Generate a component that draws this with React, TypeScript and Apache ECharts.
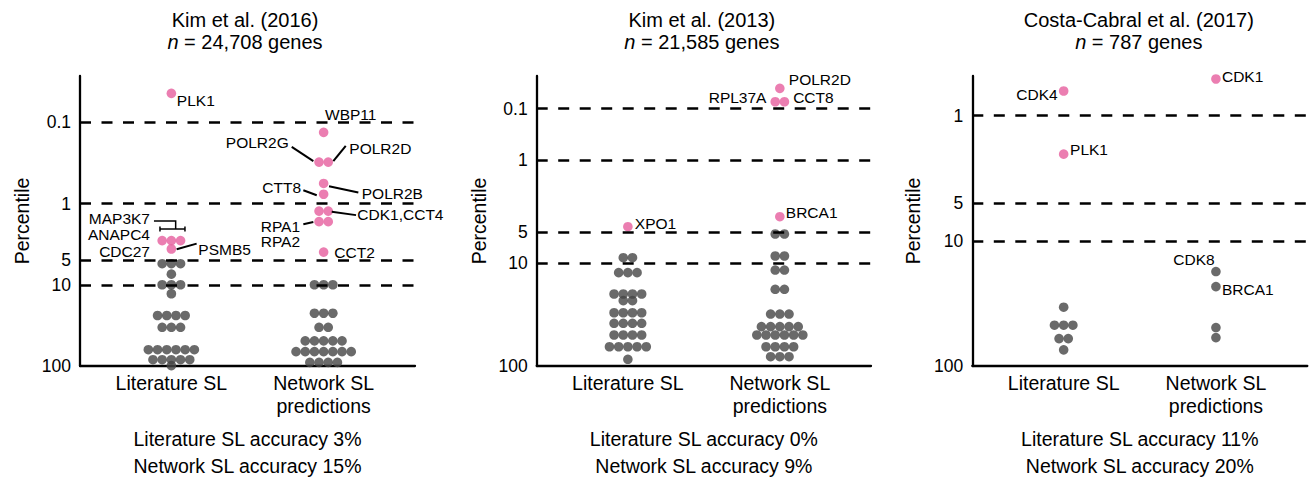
import React, { useEffect, useRef } from 'react';
import * as echarts from 'echarts';

const W = 1309;
const H = 479;

// ---------------- data ----------------
const groupNames = ['Literature SL', 'Network SL\npredictions'];
const panelTitles = ['Kim et al. (2016)', 'Kim et al. (2013)', 'Costa-Cabral et al. (2017)'];
const panelGenes = ['24,708', '21,585', '787'];
const litAccuracy = ['3%', '0%', '11%'];
const netAccuracy = ['15%', '9%', '20%'];

const tickValues16 = [0.1, 1, 5, 10, 100];
const tickLabels16 = ['0.1', '1', '5', '10', '100'];
const tickValues13 = [0.1, 1, 5, 10, 100];
const tickLabels13 = ['0.1', '1', '5', '10', '100'];
const tickValues17 = [1, 5, 10, 100];
const tickLabels17 = ['1', '5', '10', '100'];
const dashed16 = [0.1, 1, 5, 10];
const dashed13 = [0.1, 1, 5, 10];
const dashed17 = [1, 5, 10];

// Kim et al. (2016) percentiles
const k16LitPink = [0.044, 2.86, 2.86, 2.86, 3.63];
const k16LitGrey = [5.5, 5.5, 5.5, 7.4, 10, 10, 10, 12.9, 23.9, 23.9, 23.9, 23.9, 33.4, 33.4, 33.4,
  63, 63, 63, 63, 63, 63, 83.6, 83.6, 83.6, 83.6, 83.6, 99];
const k16NetPink = [0.133, 0.309, 0.309, 0.566, 0.768, 1.24, 1.24, 1.67, 1.67, 3.96];
const k16NetGrey = [10, 10, 10, 22.4, 22.4, 22.4, 33.4, 33.4, 49.1, 49.1, 49.1, 49.1, 49.1,
  66.6, 66.6, 66.6, 66.6, 66.6, 66.6, 66.6, 90.3, 90.3, 90.3, 90.3];

// Kim et al. (2013) percentiles
const k13LitPink = [4.44];
const k13LitGrey = [8.88, 8.88, 12.4, 12.4, 12.4, 20, 20, 20, 20, 23.2, 23.2, 30.4, 30.4, 30.4, 30.4,
  38.5, 38.5, 38.5, 38.5, 50, 50, 50, 50, 65, 65, 65, 65, 65, 86.1];
const k13NetPink = [0.0405, 0.0738, 0.0738, 3.55];
const k13NetGrey = [5.23, 5.23, 8.55, 8.55, 11.7, 11.7, 18, 18, 31.3, 31.3, 31.3, 41.5, 41.5, 41.5, 41.5, 41.5,
  50, 50, 50, 50, 50, 50, 65, 65, 65, 65, 81.2, 81.2, 81.2];

// Costa-Cabral et al. (2017) percentiles
const c17LitPink = [0.635, 2.03];
const c17LitGrey = [33.9, 47.2, 47.2, 47.2, 60.4, 60.4, 74.3];
const c17NetPink = [0.509];
const c17NetGrey = [17.6, 23.2, 49.3, 59.3];

// annotations: [gene label, group (0 literature, 1 network), percentile of the dot it marks]
const annot16: [string, number, number][] = [
  ['PLK1', 0, 0.044], ['MAP3K7', 0, 2.86], ['ANAPC4', 0, 2.86], ['CDC27', 0, 2.86], ['PSMB5', 0, 3.63],
  ['WBP11', 1, 0.133], ['POLR2G', 1, 0.309], ['POLR2D', 1, 0.309], ['POLR2B', 1, 0.566], ['CTT8', 1, 0.768],
  ['CDK1,CCT4', 1, 1.24], ['RPA1', 1, 1.67], ['RPA2', 1, 1.67], ['CCT2', 1, 3.96],
];
const annot13: [string, number, number][] = [
  ['POLR2D', 1, 0.0405], ['RPL37A', 1, 0.0738], ['CCT8', 1, 0.0738], ['XPO1', 0, 4.44], ['BRCA1', 1, 3.55],
];
const annot17: [string, number, number][] = [
  ['CDK4', 0, 0.635], ['PLK1', 0, 2.03], ['CDK1', 1, 0.509], ['CDK8', 1, 17.6], ['BRCA1', 1, 23.2],
];

// ---------------- layout / style ----------------
const FONT = '"Liberation Sans", Arial, Helvetica, sans-serif';
const PINK = '#E65E9E';
const GREY = '#454545';
const X_MIN = 0.4;
const X_MAX = 2.6;
const DOT = 9.6;
const DOT_STEP = 9.2;

type Pos = [number, number, 'left' | 'right', number[]?];
const annotPos16: Pos[] = [
  [5.5, 7.4, 'left'],
  [-21.4, -22, 'right'],
  [-21.4, -6, 'right'],
  [-21.4, 10.6, 'right'],
  [27, 0.3, 'left', [5.3, 0.3, 25.3, -5.4]],
  [1.4, -18.3, 'left'],
  [-34.9, -19.7, 'right', [-31.9, -15.3, -10.3, -1]],
  [25.7, -13.3, 'left', [9.7, -1, 22.1, -16.3]],
  [38.1, 10, 'left', [5.4, 2.7, 34.7, 9]],
  [-22.6, -6.3, 'right', [-20.3, -4, -6.9, 1]],
  [33.7, 3.3, 'left', [8.1, 0.7, 32.4, 4]],
  [-23.6, 4.4, 'right', [-20.3, 2.7, -10.3, 0.4]],
  [-23.6, 20.2, 'right'],
  [10.7, 0, 'left'],
];
const annotPos13: Pos[] = [
  [9, -9.3, 'left'],
  [-13.4, -4, 'right'],
  [13.3, -4, 'left'],
  [7, -3.4, 'left'],
  [6, -4, 'left'],
];
const annotPos17: Pos[] = [
  [-6, 3.3, 'right'],
  [6.4, -5, 'left'],
  [6, -2.3, 'left'],
  [-1.3, -12.4, 'right'],
  [6, 3.3, 'left'],
];

const tLog = (v: number) => Math.log10(v);
const tBroken = (v: number) => (v < 1 ? 0.5 * Math.log10(v) : Math.log10(v));

const panels = [
  {
    litPink: k16LitPink, litGrey: k16LitGrey, netPink: k16NetPink, netGrey: k16NetGrey,
    ticks: tickValues16, tickLabels: tickLabels16, dashed: dashed16, t: tLog, tMin: -1.57,
    grid: { left: 80, top: 76, width: 335, height: 290 }, yNameX: 21.5, titleShift: -2.5,
    annot: annot16, annotPos: annotPos16,
  },
  {
    litPink: k13LitPink, litGrey: k13LitGrey, netPink: k13NetPink, netGrey: k13NetGrey,
    ticks: tickValues13, tickLabels: tickLabels13, dashed: dashed13, t: tBroken, tMin: -0.816,
    grid: { left: 536.7, top: 76, width: 334.3, height: 290 }, yNameX: 478.5, titleShift: -2,
    annot: annot13, annotPos: annotPos13,
  },
  {
    litPink: c17LitPink, litGrey: c17LitGrey, netPink: c17NetPink, netGrey: c17NetGrey,
    ticks: tickValues17, tickLabels: tickLabels17, dashed: dashed17, t: tLog, tMin: -0.317,
    grid: { left: 972.3, top: 76, width: 335, height: 290 }, yNameX: 913, titleShift: -1,
    annot: annot17, annotPos: annotPos17,
  },
];

// beeswarm: dots with equal value form one row, centred on the group
function swarm(values: number[], center: number, step: number, t: (v: number) => number) {
  const counts = new Map<number, number>();
  values.forEach((v) => counts.set(v, (counts.get(v) || 0) + 1));
  const seen = new Map<number, number>();
  return values.map((v) => {
    const n = counts.get(v) as number;
    const i = seen.get(v) || 0;
    seen.set(v, i + 1);
    return [center + (i - (n - 1) / 2) * step, t(v), v];
  });
}

function buildOption() {
  const grid: any[] = [];
  const xAxis: any[] = [];
  const yAxis: any[] = [];
  const series: any[] = [];
  panels.forEach((p, i) => {
    grid.push({ ...p.grid });
    const step = (DOT_STEP * (X_MAX - X_MIN)) / p.grid.width;
    xAxis.push({
      type: 'value', gridIndex: i, min: X_MIN, max: X_MAX,
      axisLine: { show: true, onZero: false, lineStyle: { color: '#000', width: 2.3 } },
      axisTick: { show: false }, splitLine: { show: false },
      axisLabel: {
        customValues: [1, 2],
        formatter: (v: number) => groupNames[Math.round(v) - 1],
        color: '#000', fontSize: 19.5, fontFamily: FONT, lineHeight: 23.5, margin: 5,
      },
    });
    yAxis.push({
      type: 'value', gridIndex: i, inverse: true, min: p.tMin, max: 2,
      axisLine: { show: true, onZero: false, lineStyle: { color: '#000', width: 2.3 } },
      axisTick: { show: false }, splitLine: { show: false },
      axisLabel: {
        customValues: p.ticks.map(p.t),
        formatter: (v: number) => {
          const k = p.ticks.findIndex((tv) => Math.abs(p.t(tv) - v) < 1e-6);
          return k >= 0 ? p.tickLabels[k] : '';
        },
        color: '#000', fontSize: 17.5, fontFamily: FONT, margin: 9,
      },
    });
    series.push({
      type: 'scatter', xAxisIndex: i, yAxisIndex: i, data: [], z: 1, silent: true,
      markLine: {
        silent: true, symbol: ['none', 'none'], label: { show: false },
        lineStyle: { type: [11, 10.5], color: '#000', width: 2.6 },
        emphasis: { disabled: true },
        data: p.dashed.map((v) => ({ yAxis: p.t(v) })),
      },
    });
    series.push({
      type: 'scatter', xAxisIndex: i, yAxisIndex: i, z: 3, clip: false, silent: true,
      symbolSize: DOT, itemStyle: { color: GREY },
      data: [...swarm(p.litGrey, 1, step, p.t), ...swarm(p.netGrey, 2, step, p.t)],
    });
    series.push({
      type: 'scatter', xAxisIndex: i, yAxisIndex: i, z: 3, clip: false, silent: true,
      symbolSize: DOT, itemStyle: { color: PINK },
      data: [...swarm(p.litPink, 1, step, p.t), ...swarm(p.netPink, 2, step, p.t)],
    });
  });
  return { animation: false, grid, xAxis, yAxis, series };
}

function txt(x: number, y: number, text: string, size: number, align: string, extra: any = {}) {
  return {
    type: 'text', x, y, silent: true, z: 10, ...extra,
    style: {
      text, fontSize: size, fontFamily: FONT, fill: '#000',
      align, verticalAlign: 'middle', textAlign: align, textVerticalAlign: 'middle',
      ...(extra.style || {}),
    },
  };
}

function buildGraphic(chart: any) {
  const els: any[] = [];
  panels.forEach((p, i) => {
    const cx = p.grid.left + p.grid.width / 2;
    els.push(txt(cx + p.titleShift, 19.5, panelTitles[i], 20, 'center'));
    els.push(txt(cx + p.titleShift, 41.5, `{i|n} = ${panelGenes[i]} genes`, 20, 'center', {
      style: { rich: { i: { fontStyle: 'italic', fontSize: 20, fontFamily: FONT, fill: '#000' } } },
    }));
    els.push(txt(cx, 439, `Literature SL accuracy ${litAccuracy[i]}`, 19.5, 'center'));
    els.push(txt(cx, 466, `Network SL accuracy ${netAccuracy[i]}`, 19.5, 'center'));
    els.push(txt(p.yNameX, 221, 'Percentile', 19.5, 'center', { rotation: Math.PI / 2 }));

    p.annot.forEach(([label, g, v], k) => {
      const pos = p.annotPos[k];
      const [ax, ay] = chart.convertToPixel({ gridIndex: i }, [g + 1, p.t(v)]);
      els.push(txt(ax + pos[0], ay + pos[1], label, 15.5, pos[2]));
      const ln = pos[3];
      if (ln) {
        els.push({
          type: 'line', silent: true, z: 9,
          shape: { x1: ax + ln[0], y1: ay + ln[1], x2: ax + ln[2], y2: ay + ln[3] },
          style: { stroke: '#000', lineWidth: 2 },
        });
      }
      if (i === 0 && label === 'MAP3K7') {
        const pts = (arr: number[][]) => arr.map(([a, b]) => [ax + a, ay + b]);
        const ls = { stroke: '#000', lineWidth: 1.5, fill: null };
        els.push({ type: 'polyline', silent: true, z: 9, shape: { points: pts([[-17.4, -19.6], [4.3, -19.6], [4.3, -11.6]]) }, style: ls });
        els.push({ type: 'polyline', silent: true, z: 9, shape: { points: pts([[-11.4, -11.6], [13.6, -11.6]]) }, style: ls });
        els.push({ type: 'polyline', silent: true, z: 9, shape: { points: pts([[-11.4, -14.2], [-11.4, -9]]) }, style: ls });
        els.push({ type: 'polyline', silent: true, z: 9, shape: { points: pts([[13.6, -14.2], [13.6, -9]]) }, style: ls });
      }
    });
  });
  return { elements: els };
}

export default function App() {
  const ref = useRef<HTMLDivElement>(null);
  useEffect(() => {
    const chart = echarts.init(ref.current as HTMLDivElement, null, { renderer: 'svg' });
    chart.setOption(buildOption() as any);
    chart.setOption({ graphic: buildGraphic(chart) } as any);
    return () => chart.dispose();
  }, []);
  return (
    <div
      ref={ref}
      style={{ position: 'fixed', left: 0, top: 0, width: W, height: H, background: '#fff' }}
    />
  );
}
